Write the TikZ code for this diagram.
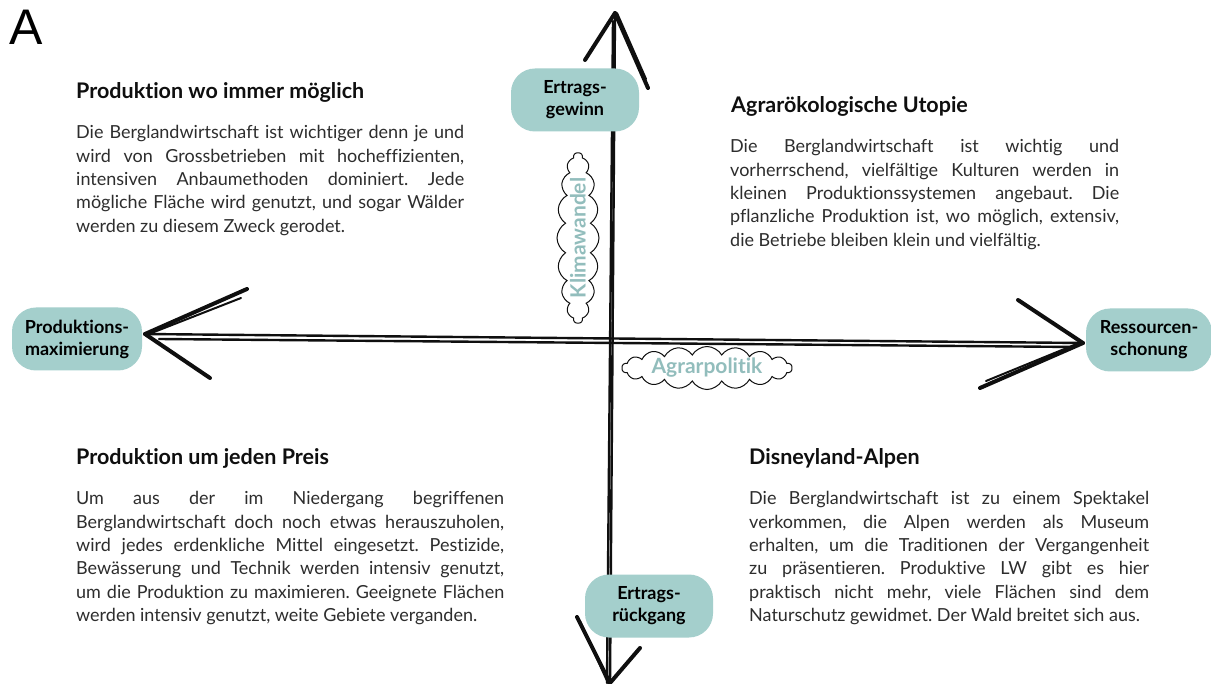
\documentclass[tikz,border=0pt]{standalone}
\usepackage{fontspec}
\setmainfont{Lato}[Ligatures=NoCommon]
\newfontfamily\panelfont{Liberation Sans}
\usetikzlibrary{shapes.symbols}

\definecolor{pilltl}{RGB}{164,207,204}
\definecolor{cloudtl}{RGB}{146,189,188}
\definecolor{ink}{RGB}{15,15,15}
\definecolor{bodygray}{RGB}{45,45,45}

% one justified line of a text block
\newcommand{\jl}[1]{\makebox[\linewidth][s]{#1}\par}

\tikzset{
  pill/.style={fill=pilltl, rounded corners=24pt, minimum width=128pt,
    minimum height=63pt, align=center, inner sep=0pt,
    font=\fontsize{18}{22}\selectfont\bfseries},
  puff/.style={cloud, cloud puffs=18, cloud puff arc=120, cloud ignores aspect,
    draw=ink, line width=1pt, fill=white, text=cloudtl, inner sep=0pt,
    minimum width=170pt, minimum height=43pt,
    font=\fontsize{21}{22}\selectfont\bfseries},
  head/.style={anchor=base west, inner sep=0pt, text=ink,
    font=\fontsize{21.5}{24}\selectfont\bfseries},
  body/.style={anchor=base west, inner sep=0pt, text=bodygray,
    font=\fontsize{18}{23.3}\selectfont\frenchspacing},
  stroke/.style={line width=2.4pt, line cap=round, draw=ink},
  barb/.style={line width=4pt, line cap=round, draw=ink},
}

\begin{document}
\begin{tikzpicture}[x=1pt, y=-1pt]
  \fill[white] (0,0) rectangle (1211,684);
  \useasboundingbox (0,0) rectangle (1211,684);

  \node[anchor=base west, inner sep=0pt, font=\panelfont\fontsize{50}{50}\selectfont] (panel) at (9,45) {A};

  % axes
  \coordinate (ytop) at (615,13);
  \coordinate (ybot) at (610,683);
  \coordinate (xleft) at (145,334);
  \coordinate (xright) at (1083,343);

  \draw[stroke] (ybot) -- (ytop);
  \draw[stroke] ([xshift=-3pt]ybot) -- ([xshift=-2pt,yshift=-8pt]ytop);
  \draw[stroke] (xleft) -- (xright);
  \draw[stroke] ([xshift=14pt,yshift=-5pt]xleft) -- ([xshift=-8pt,yshift=-4pt]xright);

  \draw[barb] (ytop) -- ++(-30,47);
  \draw[barb] (ytop) -- ++(33,75);
  \draw[barb, line width=2pt] ([xshift=2pt]ytop) -- ++(29,66);
  \draw[barb] (ybot) -- ++(-33,-66);
  \draw[barb, line width=2pt] ([xshift=-2pt]ybot) -- ++(-28,-62);
  \draw[barb] (ybot) -- ++(30,-35);
  \draw[barb] (xleft) -- ++(102,-45);
  \draw[barb, line width=2pt] ([xshift=4pt]xleft) -- ++(92,-36);
  \draw[barb] (xleft) -- ++(65,44);
  \draw[barb] (xright) -- ++(-65,-43);
  \draw[barb] (xright) -- ++(-103,45);
  \draw[barb, line width=2pt] ([xshift=-4pt]xright) -- ++(-93,38);

  % poles
  \node[pill] (gain) at (575,100) {Ertrags-\\gewinn};
  \node[pill] (loss) at (649,606) {Ertrags-\\rückgang};
  \node[pill, minimum width=130pt] (maxi) at (77,339) {Produktions-\\maximierung};
  \node[pill, minimum width=126pt] (save) at (1149,340) {Ressourcen-\\schonung};

  % drivers
  \node[puff, rotate=90, minimum width=168pt, minimum height=42pt] (clim) at (578,238) {Klimawandel};
  \node[puff] (agri) at (707,368) {Agrarpolitik};

  % scenarios
  \node[head] (t1) at (76,99) {Produktion wo immer möglich};
  \node[body] (b1) at (76,139) {\parbox[t]{388pt}{%
    \jl{Die Berglandwirtschaft ist wichtiger denn je und}
    \jl{wird von Grossbetrieben mit hocheffizienten,}
    \jl{intensiven Anbaumethoden dominiert. Jede}
    \jl{mögliche Fläche wird genutzt, und sogar Wälder}
    werden zu diesem Zweck gerodet.}};

  \node[head] (t2) at (731,113) {Agrarökologische Utopie};
  \node[body] (b2) at (730,153) {\parbox[t]{389pt}{%
    \jl{Die Berglandwirtschaft ist wichtig und}
    \jl{vorherrschend, vielfältige Kulturen werden in}
    \jl{kleinen Produktionssystemen angebaut. Die}
    \jl{pflanzliche Produktion ist, wo möglich, extensiv,}
    die Betriebe bleiben klein und vielfältig.}};

  \node[head] (t3) at (76,465) {Produktion um jeden Preis};
  \node[body] (b3) at (76,505) {\parbox[t]{428pt}{%
    \jl{Um aus der im Niedergang begriffenen}
    \jl{Berglandwirtschaft doch noch etwas herauszuholen,}
    \jl{wird jedes erdenkliche Mittel eingesetzt. Pestizide,}
    \jl{Bewässerung und Technik werden intensiv genutzt,}
    \jl{um die Produktion zu maximieren. Geeignete Flächen}
    werden intensiv genutzt, weite Gebiete verganden.}};

  \node[head] (t4) at (749,465) {Disneyland-Alpen};
  \node[body] (b4) at (749,505) {\parbox[t]{400pt}{%
    \jl{Die Berglandwirtschaft ist zu einem Spektakel}
    \jl{verkommen, die Alpen werden als Museum}
    \jl{erhalten, um die Traditionen der Vergangenheit}
    \jl{zu präsentieren. Produktive LW gibt es hier}
    \jl{praktisch nicht mehr, viele Flächen sind dem}
    Naturschutz gewidmet. Der Wald breitet sich aus.}};
\end{tikzpicture}
\end{document}
